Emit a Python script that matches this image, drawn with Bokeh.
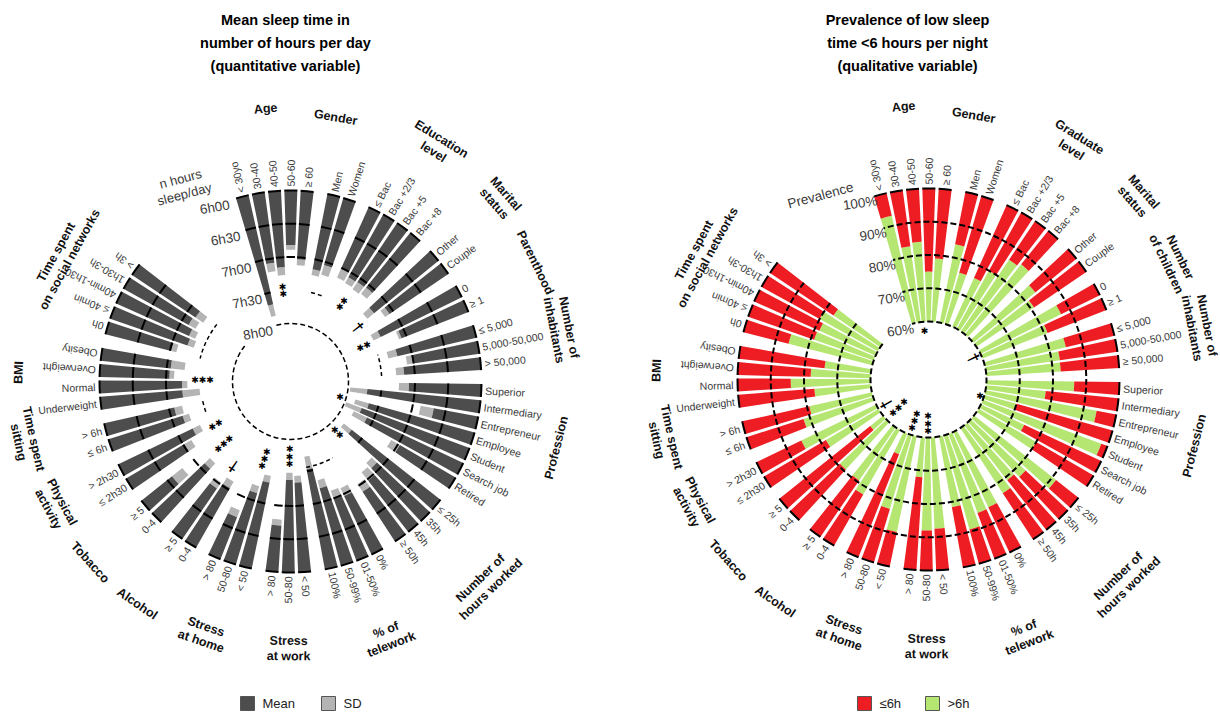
import math
from bokeh.plotting import figure
from bokeh.models import Range1d
from bokeh.core.properties import value
from bokeh.embed import file_html
from bokeh.resources import INLINE

# ---------------------------------------------------------------- data
group_sizes = [5, 2, 4, 2, 2, 3, 7, 4, 4, 3, 3, 2, 2, 2, 2, 4, 5]

groups_left = ["Age", "Gender", "Education\nlevel", "Marital\nstatus", "Parenthood",
               "Number of\ninhabitants", "Profession", "Number of\nhours worked",
               "% of\ntelework", "Stress\nat work", "Stress\nat home", "Alcohol",
               "Tobacco", "Physical\nactivity", "Time spent\nsitting", "BMI",
               "Time spent\non social networks"]
groups_right = ["Age", "Gender", "Graduate\nlevel", "Marital\nstatus", "Number\nof children",
                "Number of\ninhabitants", "Profession", "Number of\nhours worked",
                "% of\ntelework", "Stress\nat work", "Stress\nat home", "Alcohol",
                "Tobacco", "Physical\nactivity", "Time spent\nsitting", "BMI",
                "Time spent\non social networks"]

categories_left = ["< 30yo", "30-40", "40-50", "50-60", "≥ 60",
                   "Men", "Women",
                   "≤ Bac", "Bac +2/3", "Bac +5", "Bac +8",
                   "Other", "Couple",
                   "0", "≥ 1",
                   "≤ 5,000", "5,000-50,000", "> 50,000",
                   "Superior", "Intermediary", "Entrepreneur", "Employee", "Student",
                   "Search job", "Retired",
                   "≤ 25h", "35h", "45h", "≥ 50h",
                   "0%", "01-50%", "50-99%", "100%",
                   "< 50", "50-80", "> 80",
                   "< 50", "50-80", "> 80",
                   "0-4", "≥ 5",
                   "0-4", "≥ 5",
                   "≤ 2h30", "> 2h30",
                   "≤ 6h", "> 6h",
                   "Underweight", "Normal", "Overweight", "Obesity",
                   "0h", "≤ 40min", "40min-1h30", "1h30-3h", "> 3h"]
categories_right = [c if c != "> 50,000" else "≥ 50,000" for c in categories_left]

# mean sleep time (hours per day) and its SD band length (hours)
mean_sleep = [7.68, 7.07, 7.15, 6.82, 7.03,
              7.15, 7.05,
              7.02, 7.08, 7.07, 7.06,
              7.25, 7.07,
              7.36, 7.08,
              7.22, 7.01, 7.16,
              7.09, 7.71, 6.68, 7.65, 7.73, 7.60, 6.97,
              7.70, 7.09, 6.98, 6.89,
              6.97, 7.00, 7.21, 7.53,
              7.35, 7.39, 6.70,
              7.32, 7.12, 6.68,
              7.03, 6.92,
              7.09, 6.59,
              7.02, 7.24,
              7.17, 7.08,
              7.24, 7.24, 7.05, 7.06,
              7.02, 7.23, 7.20, 7.12, 7.15]
sd_sleep = [0.18, 0.13, 0.12, 0.07, 0.09,
            0.09, 0.15,
            0.14, 0.10, 0.13, 0.12,
            0.13, 0.08,
            0.12, 0.04,
            0.14, 0.09, 0.12,
            0.15, 0.26, 0.20, 0.21, 0.25, 0.22, 0.15,
            0.15, 0.11, 0.16, 0.14,
            0.13, 0.12, 0.12, 0.19,
            0.10, 0.11, 0.09,
            0.10, 0.11, 0.11,
            0.11, 0.11,
            0.11, 0.20,
            0.12, 0.12,
            0.10, 0.12,
            0.26, 0.08, 0.07, 0.21,
            0.08, 0.10, 0.10, 0.12, 0.14]

# prevalence of sleep <= 6h (%)
low_sleep_pct = [7, 17, 16, 25, 21,
                 16, 24,
                 24, 20, 14, 13,
                 16, 19,
                 13, 19,
                 15, 17.5, 17.6,
                 13.6, 22, 6, 30, 2, 25.6, 20,
                 8.6, 17.4, 19, 16.6,
                 15, 14.7, 10.7, 18.4,
                 12.5, 12, 28,
                 10.6, 16.8, 33.3,
                 17.7, 20.6,
                 20.7, 35,
                 21.6, 15,
                 18, 20.7,
                 23, 16, 22, 26,
                 14, 21, 21.5, 20, 23]

sig_left = ["**", "ns", "**", "†", "**", "ns", "*", "**", "ns", "***", "***", "†",
            "***", "**", "ns", "***", "ns"]
sig_right = ["*", "", "", "", "†", "", "*", "", "", "***", "***", "", "***", "†", "", "", ""]

ticks_left = ["6h00", "6h30", "7h00", "7h30", "8h00"]
tick_hours = [6.0, 6.5, 7.0, 7.5, 8.0]
ticks_right = ["100%", "90%", "80%", "70%", "60%"]
tick_pct = [100, 90, 80, 70, 60]

# ---------------------------------------------------------------- layout
W, H = 1220, 713
R_OUT, R_IN = 191.0, 58.0
PITCH, GAP, THETA0, HALF_W = 4.9, 0.65, -14.6, 1.95
CENTER_L = (290.0, H - 381.0)
CENTER_R = (928.0, H - 379.0)

# radial position of the significance marks (in each panel's own unit)
sig_pos_left = [7.5, 7.5, 7.47, 7.57, 7.65, 7.5, 8.09, 7.83, 7.56, 7.74, 7.64, 7.33,
                7.5, 7.57, 7.52, 7.55, 7.47]
sig_pos_right = [57.3, 0, 0, 0, 57.6, 0, 58.8, 0, 0, 55.8, 55.8, 0, 54.9, 57.3, 0, 0, 0]
# group title placement: (clockwise angle from top, radius)
group_label_pos = [(-5.2, 274), (9.7, 268), (31.9, 278), (48.9, 278), (64.1, 272),
                   (79.0, 276), (104.0, 274), (136.0, 281), (159.0, 274), (180.4, 267),
                   (199.0, 267), (214.6, 270), (227.9, 270), (242.2, 266), (257.4, 271),
                   (271.9, 272), (298.9, 260)]

DARK, LIGHT = "#4d4d4d", "#b4b4b4"
RED, GREEN = "#ee1d23", "#b5e671"
FONT = value("Liberation Sans")
STAR_FONT = value("DejaVu Sans")

thetas, gidx = [], []
k = 0
for g, n in enumerate(group_sizes):
    for _ in range(n):
        thetas.append(THETA0 + PITCH * (k + GAP * g))
        gidx.append(g)
        k += 1


def r_left(h):
    return R_OUT - (h - 6.0) / 2.0 * (R_OUT - R_IN)


def r_right(v):
    return R_IN + (v - 60.0) / 40.0 * (R_OUT - R_IN)


def phi(theta):
    return math.radians(90.0 - theta)


def polar(c, r, theta):
    t = math.radians(theta)
    return c[0] + r * math.sin(t), c[1] + r * math.cos(t)


p = figure(width=W, height=H, x_range=Range1d(0, W), y_range=Range1d(0, H),
           output_backend="svg", toolbar_location=None, min_border=0,
           x_axis_type=None, y_axis_type=None)
p.grid.visible = False
p.outline_line_color = None
p.background_fill_color = "white"
p.border_fill_color = "white"

starts = [phi(t) - math.radians(HALF_W) for t in thetas]
ends = [phi(t) + math.radians(HALF_W) for t in thetas]


def bar_labels(c, labels):
    xs, ys, angs, aligns = [], [], [], []
    for t, lab in zip(thetas, labels):
        x, y = polar(c, R_OUT + 4, t)
        xs.append(x)
        ys.append(y)
        if 180 < t < 270:
            angs.append(phi(t) + math.pi)
            aligns.append("right")
        else:
            angs.append(phi(t))
            aligns.append("left")
    p.text(x=xs, y=ys, text=labels, angle=angs, text_align=aligns,
           text_baseline="middle", text_font=FONT, text_font_size="10.5px",
           text_color="#3a3a3a")


def group_labels(c, names):
    xs, ys, angs = [], [], []
    for (t, r), name in zip(group_label_pos, names):
        x, y = polar(c, r, t)
        xs.append(x)
        ys.append(y)
        a = phi(t) + math.pi / 2 if 95 <= t <= 262 else phi(t) - math.pi / 2
        angs.append(a)
    p.text(x=xs, y=ys, text=names, angle=angs, text_align="center",
           text_baseline="middle", text_font=FONT, text_font_style="bold",
           text_font_size="12.5px", text_color="#111111", text_line_height=1.1)


def group_span(g):
    ts = [t for t, gg in zip(thetas, gidx) if gg == g]
    return ts[0] - HALF_W, ts[-1] + HALF_W, (ts[0] + ts[-1]) / 2.0


def sig_marks(c, sig, rad):
    sx, sy = [], []
    dx, dy, da = [], [], []
    for g, s in enumerate(sig):
        if not s or s == "ns":
            continue
        _, _, tc = group_span(g)
        if s == "†":
            x, y = polar(c, rad[g], tc)
            dx.append(x)
            dy.append(y)
            da.append(phi(tc) - math.pi / 2)
        else:
            n = len(s)
            for m in range(n):
                x, y = polar(c, rad[g] + (m - (n - 1) / 2.0) * 7.5, tc)
                sx.append(x)
                sy.append(y)
    p.text(x=sx, y=sy, text=["✱"] * len(sx), text_align="center", text_baseline="middle",
           text_font=STAR_FONT, text_font_size="9px", text_color="black")
    p.text(x=dx, y=dy, text=["†"] * len(dx), angle=da, text_align="center",
           text_baseline="middle", text_font=FONT, text_font_style="bold",
           text_font_size="16px", text_color="black")


full_start = phi(thetas[-1] + HALF_W)
full_end = phi(thetas[0] - HALF_W)

# ---------------------------------------------------------------- left panel
cl = CENTER_L
r_mean = [r_left(m) for m in mean_sleep]
r_sd = [r_left(m + s) for m, s in zip(mean_sleep, sd_sleep)]
n_bars = len(thetas)
p.annular_wedge(x=[cl[0]] * n_bars, y=[cl[1]] * n_bars, inner_radius=r_sd, outer_radius=r_mean,
                start_angle=starts, end_angle=ends, fill_color=LIGHT, line_color=None)
p.annular_wedge(x=[cl[0]] * n_bars, y=[cl[1]] * n_bars, inner_radius=r_mean,
                outer_radius=[R_OUT] * n_bars, start_angle=starts, end_angle=ends,
                fill_color=DARK, line_color=None)
p.arc(x=[cl[0]] * n_bars, y=[cl[1]] * n_bars, radius=[R_OUT] * n_bars,
      start_angle=starts, end_angle=ends, line_color="black", line_width=2)

# hour grid marks across each bar
tr, ts_, te_ = [], [], []
for j in range(n_bars):
    for lvl in (6.5, 7.0, 7.5):
        if lvl == 7.5 and mean_sleep[j] < 7.45:
            continue
        tr.append(r_left(lvl))
        ts_.append(starts[j])
        te_.append(ends[j])
p.arc(x=[cl[0]] * len(tr), y=[cl[1]] * len(tr), radius=tr, start_angle=ts_, end_angle=te_,
      line_color="black", line_width=2)

# inner 8h00 circle
p.arc(x=[cl[0]], y=[cl[1]], radius=[r_left(8.0)], start_angle=[full_start],
      end_angle=[full_end], line_color="black", line_width=1.5, line_dash="5 3")

# non-significant groups: dashed arc
ns_r, ns_s, ns_e = [], [], []
for g, s in enumerate(sig_left):
    if s == "ns":
        a0, a1, _ = group_span(g)
        ns_r.append(r_left(sig_pos_left[g]))
        ns_s.append(phi(a1))
        ns_e.append(phi(a0))
p.arc(x=[cl[0]] * len(ns_r), y=[cl[1]] * len(ns_r), radius=ns_r, start_angle=ns_s,
      end_angle=ns_e, line_color="black", line_width=1.5, line_dash="4 3")
sig_marks(cl, sig_left, [r_left(v) for v in sig_pos_left])

bar_labels(cl, categories_left)
group_labels(cl, groups_left)

lx, ly = [], []
for h in tick_hours:
    x, y = polar(cl, r_left(h) - 4, -19.0)
    lx.append(x)
    ly.append(y)
p.text(x=lx, y=ly, text=ticks_left, angle=math.radians(10), text_align="right",
       text_baseline="middle", text_font=FONT, text_font_size="13.5px", text_color="#3a3a3a")
p.text(x=[182], y=[H - 186], text=["n hours\nsleep/day"], angle=math.radians(15),
       text_align="center", text_baseline="middle", text_font=FONT,
       text_font_size="13px", text_color="#3a3a3a", text_line_height=1.05)

# ---------------------------------------------------------------- right panel
cr = CENTER_R
r_split = [r_right(100 - v) for v in low_sleep_pct]
p.annular_wedge(x=[cr[0]] * n_bars, y=[cr[1]] * n_bars, inner_radius=[R_IN] * n_bars,
                outer_radius=r_split, start_angle=starts, end_angle=ends,
                fill_color=GREEN, line_color=None)
p.annular_wedge(x=[cr[0]] * n_bars, y=[cr[1]] * n_bars, inner_radius=r_split,
                outer_radius=[R_OUT] * n_bars, start_angle=starts, end_angle=ends,
                fill_color=RED, line_color=None)
p.arc(x=[cr[0]] * n_bars, y=[cr[1]] * n_bars, radius=[R_OUT] * n_bars,
      start_angle=starts, end_angle=ends, line_color="black", line_width=2)
for v in tick_pct[1:]:
    p.arc(x=[cr[0]], y=[cr[1]], radius=[r_right(v)], start_angle=[full_start],
          end_angle=[full_end], line_color="black", line_width=2, line_dash="6 3")
sig_marks(cr, sig_right, [r_right(v) if v else 0 for v in sig_pos_right])

bar_labels(cr, categories_right)
group_labels(cr, groups_right)

lx, ly = [], []
for v in tick_pct:
    x, y = polar(cr, r_right(v) - 5, -16.0)
    lx.append(x)
    ly.append(y)
p.text(x=lx, y=ly, text=ticks_right, angle=math.radians(8), text_align="right",
       text_baseline="middle", text_font=FONT, text_font_size="13.5px", text_color="#3a3a3a")
p.text(x=[820], y=[H - 195], text=["Prevalence"], angle=math.radians(15),
       text_align="center", text_baseline="middle", text_font=FONT,
       text_font_size="13.5px", text_color="#3a3a3a")

# ---------------------------------------------------------------- titles
p.text(x=[285] * 3, y=[H - 19, H - 42, H - 65],
       text=["Mean sleep time in", "number of hours per day", "(quantitative variable)"],
       text_align="center", text_baseline="middle", text_font=FONT,
       text_font_style="bold", text_font_size="14.5px", text_color="black")
p.text(x=[907] * 3, y=[H - 19, H - 42, H - 65],
       text=["Prevalence of low sleep", "time <6 hours per night", "(qualitative variable)"],
       text_align="center", text_baseline="middle", text_font=FONT,
       text_font_style="bold", text_font_size="14.5px", text_color="black")

# ---------------------------------------------------------------- legends
leg_y = H - 703
p.rect(x=[247, 328, 864, 932], y=[leg_y] * 4, width=14, height=14,
       fill_color=[DARK, LIGHT, RED, GREEN], line_color="#555555", line_width=1)
p.text(x=[262, 343, 879, 947], y=[leg_y] * 4, text=["Mean", "SD", "≤6h", ">6h"],
       text_align="left", text_baseline="middle", text_font=FONT,
       text_font_size="13px", text_color="#222222")

open("out.html", "w").write(file_html(p, INLINE))
